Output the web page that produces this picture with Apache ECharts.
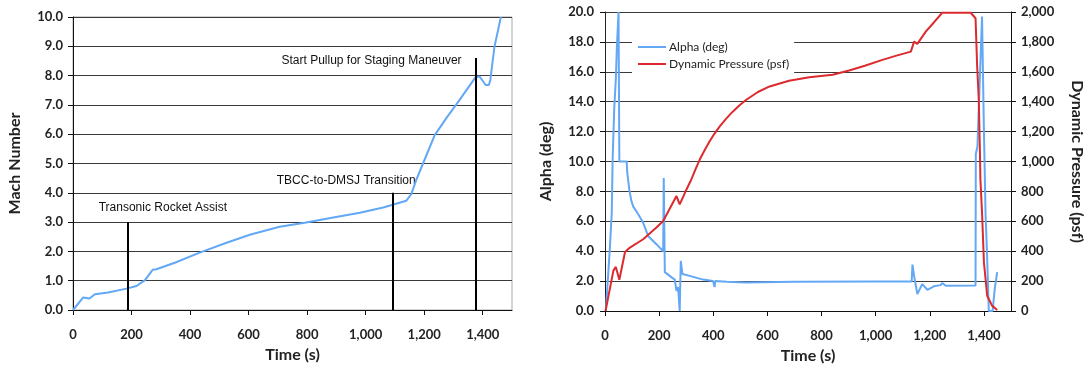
<!DOCTYPE html>
<html>
<head>
<meta charset="utf-8">
<script src="https://cdn.jsdelivr.net/npm/echarts@6/dist/echarts.min.js"></script>
<style>
  html, body { margin: 0; padding: 0; background: #fff; }
  #chart { width: 1086px; height: 369px; }
</style>
</head>
<body>
<div id="chart"></div>
<script>
// left chart: Mach number vs time
const machTime = [0, 35, 56, 75, 120, 183, 217, 246, 272, 285, 350, 433, 520, 604, 706, 792, 880, 980, 1060, 1139, 1156, 1173, 1196, 1236, 1275, 1321, 1375, 1389, 1398, 1410, 1421, 1426, 1440, 1462];
const machValue = [0, 0.43, 0.39, 0.54, 0.60, 0.73, 0.82, 1.02, 1.37, 1.39, 1.62, 1.96, 2.28, 2.57, 2.84, 2.98, 3.14, 3.32, 3.50, 3.73, 3.96, 4.44, 5.0, 5.97, 6.54, 7.17, 7.94, 7.97, 7.85, 7.68, 7.68, 7.85, 8.98, 10.0];

// event markers (time, top of marker line) and their labels
const eventTime = [188, 1092, 1375];
const eventTop = [3.0, 4.0, 8.6];
const eventLabel = ['Transonic Rocket Assist', 'TBCC-to-DMSJ Transition', 'Start Pullup for Staging Maneuver'];
const labelTime = [307, 908, 1020];
const labelMach = [3.48, 4.40, 8.5];

// right chart: alpha and dynamic pressure vs time
const alphaTime = [3, 18, 25, 28, 34, 40, 44, 50, 53, 80, 82, 90, 97, 104, 125, 141, 160, 190, 215, 217, 221, 227, 246, 258, 264, 270, 276, 280, 286, 313, 362, 399, 404, 405, 407, 450, 520, 522, 525, 700, 982, 1133, 1136, 1142, 1154, 1172, 1191, 1215, 1240, 1246, 1259, 1369, 1370, 1376, 1393, 1400, 1406, 1412, 1418, 1432, 1440, 1449];
const alphaValue = [0, 4.2, 6.6, 10.0, 13.5, 15.5, 17.7, 20, 10, 10, 9.3, 8.1, 7.4, 7.0, 6.4, 5.9, 5.0, 4.47, 4.0, 8.9, 2.6, 2.6, 2.25, 2.1, 1.35, 1.6, 0, 3.35, 2.47, 2.35, 2.1, 2.0, 2.0, 1.6, 2.0, 1.95, 1.9, 1.85, 1.95, 1.95, 1.98, 1.98, 3.1, 2.35, 1.13, 1.8, 1.42, 1.65, 1.73, 1.87, 1.69, 1.7, 10.5, 11.0, 19.7, 12.0, 6.5, 3.5, 0, 0, 1.5, 2.6];
const qTime = [2, 31, 40, 53, 74, 92, 141, 190, 215, 264, 276, 301, 319, 335, 350, 368, 385, 404, 424, 447, 470, 496, 522, 565, 608, 680, 755, 841, 902, 960, 1025, 1080, 1130, 1142, 1154, 1185, 1215, 1246, 1351, 1369, 1375, 1381, 1385, 1387, 1393, 1400, 1412, 1430, 1449];
const qValue = [0, 270, 295, 209, 395, 424, 480, 558, 602, 769, 713, 813, 880, 950, 1013, 1075, 1130, 1185, 1235, 1285, 1330, 1375, 1413, 1465, 1502, 1540, 1564, 1580, 1609, 1640, 1680, 1710, 1735, 1802, 1787, 1869, 1930, 1995, 1995, 1958, 1636, 1413, 1080, 880, 658, 325, 102, 36, 7];

const timeTicks = [0, 200, 400, 600, 800, 1000, 1200, 1400];

const zip = (xs, ys) => xs.map((x, i) => [x, ys[i]]);
const num = v => v.toLocaleString('en-US');

const tickFont = { fontFamily: 'Lato, sans-serif', fontWeight: 'bold', fontSize: 13, color: '#222' };
const nameFont = { fontFamily: 'Lato, sans-serif', fontWeight: 'bold', fontSize: 16, color: '#222' };
const annFont = { fontFamily: '"Liberation Sans", Arial, sans-serif', fontSize: 12, color: '#111' };
const gridLine = { show: true, lineStyle: { color: '#3a3a3a', width: 1 } };

function timeAxis(gi) {
  return {
    gridIndex: gi, type: 'value', min: 0, max: 1500,
    name: 'Time (s)', nameLocation: 'middle', nameGap: 37, nameTextStyle: nameFont,
    axisLine: { lineStyle: { color: '#111', width: 1 } },
    axisTick: { length: 5, lineStyle: { color: '#111' }, customValues: timeTicks },
    axisLabel: Object.assign({ margin: 18, formatter: v => num(v), customValues: timeTicks }, tickFont),
    splitLine: { show: false },
  };
}

const markerLines = eventTime.map((t, i) => [{ coord: [t, 0] }, { coord: [t, eventTop[i]] }]);
const markerLabels = eventLabel.map((txt, i) => ({
  name: txt,
  value: [labelTime[i], labelMach[i]],
  label: i === 1 ? { padding: [2, 11, 8, 26] } : {},
}));

const option = {
  animation: false,
  grid: [
    { left: 73, top: 17, width: 439, height: 293, show: true, borderColor: '#a8a8a8', borderWidth: 1 },
    { left: 605, top: 12, width: 406, height: 300 },
  ],
  xAxis: [timeAxis(0), timeAxis(1)],
  yAxis: [
    {
      gridIndex: 0, type: 'value', min: 0, max: 10, interval: 1,
      name: 'Mach Number', nameLocation: 'middle', nameGap: 50, nameTextStyle: nameFont,
      axisLine: { show: true, lineStyle: { color: '#111' } },
      axisTick: { show: true, length: 5, lineStyle: { color: '#111' } },
      axisLabel: Object.assign({ margin: 10, formatter: v => v.toFixed(1) }, tickFont),
      splitLine: gridLine,
    },
    {
      gridIndex: 1, type: 'value', min: 0, max: 20, interval: 2,
      name: 'Alpha (deg)', nameLocation: 'middle', nameGap: 51, nameTextStyle: nameFont,
      axisLine: { show: true, lineStyle: { color: '#222' } },
      axisTick: { show: true, length: 5, lineStyle: { color: '#111' } },
      axisLabel: Object.assign({ margin: 11, formatter: v => v.toFixed(1) }, tickFont),
      splitLine: gridLine,
    },
    {
      gridIndex: 1, type: 'value', min: 0, max: 2000, interval: 200, position: 'right',
      name: 'Dynamic Pressure (psf)', nameLocation: 'middle', nameRotate: -90, nameGap: 58, nameTextStyle: nameFont,
      axisLine: { show: true, lineStyle: { color: '#111' } },
      axisTick: { show: true, length: 5, lineStyle: { color: '#111' } },
      axisLabel: Object.assign({ margin: 10, formatter: v => num(v) }, tickFont),
      splitLine: { show: false },
    },
  ],
  legend: {
    left: 632, top: 37, orient: 'vertical',
    backgroundColor: '#fff', padding: [4, 5, 4, 5], itemGap: 5,
    itemWidth: 28, itemHeight: 14,
    itemStyle: { opacity: 0 },
    textStyle: { fontFamily: 'Lato, sans-serif', fontSize: 12, color: '#222', padding: [0, 0, 0, -2] },
    data: ['Alpha (deg)', 'Dynamic Pressure (psf)'],
  },
  series: [
    {
      // event labels sit under the curve but above the grid lines
      name: 'Events', type: 'scatter', xAxisIndex: 0, yAxisIndex: 0, z: 1,
      symbolSize: 0, silent: true, itemStyle: { opacity: 1 },
      label: Object.assign({ show: true, position: 'inside', formatter: '{b}', backgroundColor: '#fff', padding: [2, 2, 2, 2] }, annFont),
      data: markerLabels,
    },
    {
      name: 'Mach', type: 'line', xAxisIndex: 0, yAxisIndex: 0, z: 3,
      data: zip(machTime, machValue), symbol: 'none',
      lineStyle: { color: '#62a8f5', width: 2 }, itemStyle: { color: '#62a8f5' },
      markLine: {
        silent: true, symbol: 'none', label: { show: false },
        lineStyle: { color: '#000', width: 2, type: 'solid' },
        data: markerLines,
      },
    },
    {
      name: 'Alpha (deg)', type: 'line', xAxisIndex: 1, yAxisIndex: 1,
      data: zip(alphaTime, alphaValue), symbol: 'none',
      lineStyle: { color: '#62a8f5', width: 2 }, itemStyle: { color: '#62a8f5' },
    },
    {
      name: 'Dynamic Pressure (psf)', type: 'line', xAxisIndex: 1, yAxisIndex: 2,
      data: zip(qTime, qValue), symbol: 'none',
      lineStyle: { color: '#dc2a2e', width: 2 }, itemStyle: { color: '#dc2a2e' },
    },
  ],
};

const myChart = echarts.init(document.getElementById('chart'));
myChart.setOption(option);
</script>
</body>
</html>
